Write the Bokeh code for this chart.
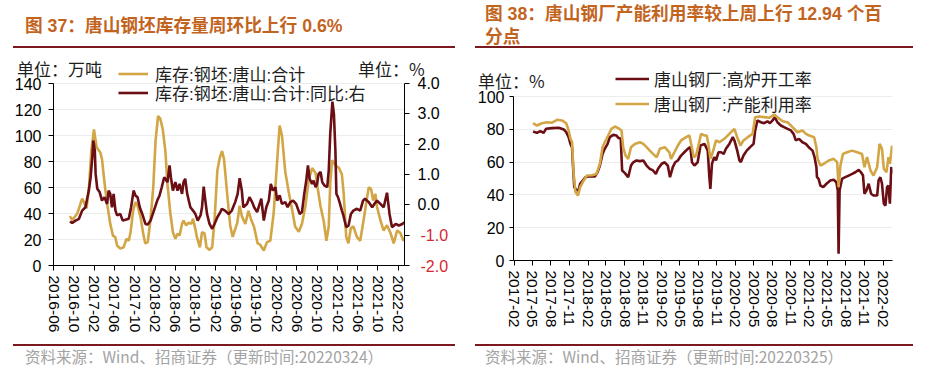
import pandas as pd
from bokeh.plotting import figure
from bokeh.models import (Range1d, LinearAxis, FixedTicker, DatetimeTickFormatter, Legend, LegendItem,
                          Div, ColumnDataSource, NumeralTickFormatter)
from bokeh.layouts import row, column
from bokeh.core.properties import value
from bokeh.embed import file_html
from bokeh.resources import INLINE

# ---------------- texts ----------------
TITLE_L = "图 37：唐山钢坯库存量周环比上行 0.6%"
TITLE_R1 = "图 38：唐山钢厂产能利用率较上周上行 12.94 个百"
TITLE_R2 = "分点"
SRC_L = "资料来源：Wind、招商证券（更新时间:20220324）"
SRC_R = "资料来源：Wind、招商证券（更新时间:20220325）"
UNIT_L_LEFT = "单位：万吨"
UNIT_L_RIGHT = "单位：%"
UNIT_R = "单位：%"
NAME_INV = "库存:钢坯:唐山:合计"
NAME_YOY = "库存:钢坯:唐山:合计:同比:右"
NAME_BF = "唐山钢厂:高炉开工率"
NAME_CU = "唐山钢厂:产能利用率"

L_TICKS = ["2016-06", "2016-10", "2017-02", "2017-06", "2017-10", "2018-02", "2018-06", "2018-10",
           "2019-02", "2019-06", "2019-10", "2020-02", "2020-06", "2020-10", "2021-02", "2021-06",
           "2021-10", "2022-02"]
R_TICKS = ["2017-02", "2017-05", "2017-08", "2017-11", "2018-02", "2018-05", "2018-08", "2018-11",
           "2019-02", "2019-05", "2019-08", "2019-11", "2020-02", "2020-05", "2020-08", "2020-11",
           "2021-02", "2021-05", "2021-08", "2021-11", "2022-02"]
L_Y_TICKS = [0, 20, 40, 60, 80, 100, 120, 140]
L_Y2_TICKS = [-2, -1, 0, 1, 2, 3, 4]
L_Y2_RED = [-2, -1]
R_Y_TICKS = [0, 20, 40, 60, 80, 100]
L_X_END = "2022-03-10"
R_X_END = "2022-03-20"

# ---------------- data: left chart ----------------
L_INV_DATES = ["2016-09-07", "2016-09-22", "2016-10-22", "2016-11-20", "2016-12-01", "2016-12-16", "2016-12-30",
               "2017-01-14", "2017-01-30", "2017-02-15", "2017-03-09", "2017-03-19", "2017-04-04", "2017-04-19",
               "2017-05-08", "2017-05-24", "2017-06-07", "2017-06-18", "2017-07-07", "2017-07-27", "2017-08-13",
               "2017-08-27", "2017-09-07", "2017-09-22", "2017-10-06", "2017-10-19", "2017-11-06", "2017-11-22",
               "2017-12-04", "2017-12-19",
               "2018-01-04", "2018-01-21", "2018-02-04", "2018-02-19", "2018-03-04", "2018-03-19", "2018-04-04",
               "2018-04-16", "2018-05-04", "2018-05-19", "2018-06-03", "2018-06-16", "2018-06-28", "2018-07-13",
               "2018-07-22", "2018-08-07", "2018-08-22", "2018-09-07", "2018-09-17", "2018-10-01", "2018-10-10",
               "2018-10-28", "2018-11-10", "2018-11-25", "2018-12-07", "2018-12-25",
               "2019-01-10", "2019-01-24", "2019-02-10", "2019-02-25", "2019-03-10", "2019-03-22", "2019-04-10",
               "2019-04-28", "2019-05-13", "2019-06-10", "2019-06-24", "2019-07-07", "2019-07-28", "2019-08-16",
               "2019-08-30", "2019-09-19", "2019-10-10", "2019-10-25", "2019-11-16", "2019-12-05", "2019-12-25",
               "2020-01-14", "2020-02-04", "2020-02-19", "2020-03-04", "2020-03-24", "2020-04-13", "2020-05-04",
               "2020-05-22", "2020-06-13", "2020-07-02", "2020-07-22", "2020-08-12", "2020-09-01", "2020-09-22",
               "2020-10-04", "2020-10-21", "2020-11-10", "2020-11-26", "2020-12-10", "2020-12-19", "2020-12-30",
               "2021-01-19", "2021-02-10", "2021-02-27", "2021-03-10", "2021-03-25", "2021-04-07", "2021-04-22",
               "2021-05-07", "2021-05-28", "2021-06-17", "2021-07-07", "2021-07-28", "2021-08-07", "2021-08-21",
               "2021-09-03", "2021-09-16", "2021-09-26", "2021-10-16", "2021-11-04", "2021-11-25", "2021-12-16",
               "2022-01-04", "2022-01-25", "2022-02-13", "2022-03-04", "2022-03-10"]
L_INV = [38, 35, 40, 51.5, 48.7, 44, 58,
         88, 104.6, 91, 87, 82, 63, 47.6, 32, 23, 21.8, 15.4, 13, 14, 20.5, 19, 25.6, 42, 48.7, 46, 37, 24.4, 17, 18,
         34.6, 60, 96, 115, 113, 105, 88, 63, 40, 25.6, 20.5, 24.4, 23, 32, 34.6, 30.8, 33, 32, 36, 28, 22, 14, 25.6,
         24.6, 14, 12,
         14, 34.6, 73, 83, 88, 82, 55, 31, 22, 33, 46, 38, 32, 42, 36, 29.5, 17, 16, 11.5, 18, 19,
         40, 80, 107.7, 100, 72, 57, 43, 30, 26, 32, 45, 66, 75, 71, 60, 46, 34, 19, 30, 63, 81,
         77, 75, 70, 55, 22, 17, 29, 30, 22, 19, 34.6, 52, 60, 59, 50, 55, 45, 35, 27, 31, 25,
         17, 27, 25, 19, 21]

L_YOY_DATES = ["2016-09-08", "2016-09-21", "2016-10-11", "2016-11-01", "2016-11-20", "2016-12-10", "2016-12-30",
               "2017-01-10", "2017-01-20", "2017-01-26", "2017-02-04", "2017-02-09", "2017-02-19", "2017-03-05",
               "2017-03-19", "2017-04-03", "2017-04-19", "2017-04-28", "2017-05-08", "2017-05-18", "2017-05-28",
               "2017-06-08", "2017-06-18", "2017-07-07", "2017-07-22", "2017-08-07", "2017-08-27", "2017-09-10",
               "2017-09-25", "2017-10-06", "2017-10-19", "2017-11-01", "2017-11-16", "2017-12-05", "2017-12-19",
               "2018-01-05", "2018-01-25", "2018-02-14", "2018-02-28", "2018-03-13", "2018-03-28", "2018-04-10",
               "2018-04-17", "2018-04-29", "2018-05-07", "2018-05-19", "2018-06-03", "2018-06-16", "2018-06-28",
               "2018-07-13", "2018-07-22", "2018-08-01", "2018-08-13", "2018-09-01", "2018-09-17", "2018-10-01",
               "2018-10-15", "2018-11-01", "2018-11-10", "2018-11-20", "2018-11-30", "2018-12-10", "2018-12-25",
               "2019-01-10", "2019-01-24", "2019-02-10", "2019-02-28", "2019-03-09", "2019-03-28", "2019-04-19",
               "2019-05-08", "2019-05-28", "2019-06-12", "2019-06-24", "2019-07-07", "2019-07-16", "2019-08-07",
               "2019-08-22", "2019-09-07", "2019-09-19", "2019-10-07", "2019-10-22", "2019-11-01", "2019-11-16",
               "2019-12-01", "2019-12-16", "2019-12-28",
               "2020-01-10", "2020-01-25", "2020-02-04", "2020-02-19", "2020-03-04", "2020-03-24", "2020-04-07",
               "2020-04-23", "2020-05-10", "2020-05-28", "2020-06-19", "2020-07-02", "2020-07-16", "2020-07-28",
               "2020-08-07", "2020-08-17", "2020-09-01", "2020-09-10", "2020-09-22", "2020-10-01", "2020-10-10",
               "2020-10-22", "2020-11-01", "2020-11-14", "2020-12-01", "2020-12-10", "2020-12-19",
               "2021-01-01", "2021-01-10", "2021-01-19", "2021-01-25", "2021-02-04", "2021-02-16", "2021-02-27",
               "2021-03-08", "2021-03-25", "2021-04-08", "2021-04-22", "2021-05-07", "2021-05-28", "2021-06-17",
               "2021-07-04", "2021-07-16", "2021-08-07", "2021-08-28", "2021-09-10", "2021-09-26", "2021-10-16",
               "2021-11-05", "2021-11-25", "2021-12-10", "2021-12-25",
               "2022-01-16", "2022-02-04", "2022-02-25", "2022-03-10"]
L_YOY = [-0.55, -0.6, -0.52, -0.46, -0.19, -0.08, 0.47,
         0.91, 1.57, 2.12, 1.79, 1.02, 0.53, 0.42, 0.14, 0.25, 0.03, 0.47, 0.36, -0.08, 0.36, -0.19, -0.35, -0.3,
         -0.52, -0.49, -0.46, -0.08, 0.47, 0.31, 0.25, -0.08, -0.3, -0.63, -0.65,
         -0.52, -0.19, 0.14, 0.31, 0.58, 0.91, 0.8, 0.75, 1.3, 0.91, 0.47, 0.75, 0.47, 0.69, 0.36, 0.75, 0.86, 0.36,
         -0.08, -0.19, -0.3, -0.52, -0.35, -0.08, 0.6, 0.14, -0.3, -0.63,
         -0.79, -0.63, -0.41, -0.24, -0.13, -0.19, -0.3, -0.19, 0.09, 0.36, 0.88, 0.47, -0.08, 0.03, 0.25, 0.09,
         -0.08, -0.24, 0.03, 0.2, -0.52, -0.08, 0.14, 0.69,
         0.47, 0.58, 0.14, 0.31, 0.03, 0.09, -0.08, 0.09, 0.14, 0.03, -0.3, -0.24, 0.36, 0.8, 1.3, 0.86, 0.69, 0.8,
         0.58, 0.69, 1.02, 1.08, 0.75, 0.64, 0.58, 1.13, 2.34,
         3.4, 3.0, 1.79, 0.36, 0.25, 0.03, -0.19, -0.35, -0.74, -0.68, -0.3, -0.19, -0.13, -0.19, 0.14, 0.2, 0.09,
         -0.08, 0.03, 0.14, 0.03, -0.08, 0.4, -0.3, -0.74,
         -0.63, -0.68, -0.63, -0.58]

# ---------------- data: right chart ----------------
R_BF_DATES = ["2017-05-05", "2017-05-24", "2017-06-10", "2017-06-26", "2017-07-08", "2017-08-07", "2017-09-09",
              "2017-10-04", "2017-10-16", "2017-10-28", "2017-11-06", "2017-11-14", "2017-11-19", "2017-11-25",
              "2017-12-05", "2017-12-16", "2017-12-24",
              "2018-01-06", "2018-01-19", "2018-02-04", "2018-03-07", "2018-03-20", "2018-04-01", "2018-04-14",
              "2018-04-25", "2018-05-09", "2018-05-20", "2018-06-06", "2018-06-22", "2018-07-01", "2018-07-13",
              "2018-07-20", "2018-08-03", "2018-08-19", "2018-09-02", "2018-09-13", "2018-09-29", "2018-10-16",
              "2018-11-02", "2018-11-18", "2018-12-04", "2018-12-20",
              "2019-01-03", "2019-01-14", "2019-02-01", "2019-02-16", "2019-03-03", "2019-03-14", "2019-03-28",
              "2019-04-09", "2019-04-22", "2019-05-08", "2019-05-24", "2019-06-10", "2019-06-23", "2019-07-01",
              "2019-07-13", "2019-07-29", "2019-08-12", "2019-09-01", "2019-09-17", "2019-09-25", "2019-09-30",
              "2019-10-08", "2019-10-19", "2019-10-28", "2019-11-09", "2019-11-22", "2019-12-05", "2019-12-16",
              "2020-01-02", "2020-01-19", "2020-01-27", "2020-02-10", "2020-02-21", "2020-02-28", "2020-03-12",
              "2020-03-28", "2020-04-14", "2020-05-01", "2020-05-09", "2020-05-20", "2020-06-06", "2020-06-22",
              "2020-07-09", "2020-07-21", "2020-08-03", "2020-08-14", "2020-08-27", "2020-09-13", "2020-09-29",
              "2020-10-16", "2020-11-02", "2020-11-15", "2020-11-26", "2020-12-12", "2020-12-29",
              "2021-01-15", "2021-02-01", "2021-02-17", "2021-02-27", "2021-03-08", "2021-03-11", "2021-03-19",
              "2021-03-28", "2021-04-11", "2021-04-27", "2021-05-16", "2021-06-02", "2021-06-15", "2021-06-22",
              "2021-06-26", "2021-07-01", "2021-07-13", "2021-07-29", "2021-08-15", "2021-09-01", "2021-09-17",
              "2021-10-04", "2021-10-15", "2021-10-25", "2021-11-01", "2021-11-11", "2021-11-22", "2021-12-04",
              "2021-12-16",
              "2022-01-03", "2022-01-10", "2022-01-19", "2022-01-27", "2022-02-05", "2022-02-13", "2022-02-21",
              "2022-02-28", "2022-03-07", "2022-03-14", "2022-03-18"]
R_BF = [78.7, 77.8, 78.9, 77.8, 80.3, 80.7, 80.9, 79.9, 78.3, 75.2, 71.1, 69, 57, 44.7, 43.1, 42.7, 46.8,
        48.8, 50.8, 51.2, 51.2, 53.8, 57.9, 65, 68.1, 71.1, 75.2, 76.6, 76.2, 74.8, 74.2, 54.9, 53.3, 50.8, 57.9,
        59.9, 61, 60.6, 61, 57.9, 55.9, 54.9,
        52.8, 55.9, 59, 59.9, 57.9, 50.8, 56.9, 59.9, 61, 64, 66, 68.1, 69.1, 59.9, 57.9, 59.9, 70.1, 71.1, 67,
        50.8, 43.7, 59, 63, 61, 66, 66, 65, 68.1,
        71.1, 75.2, 73.2, 67, 61, 60, 64, 67, 69.1, 71.1, 79.3, 85.4, 84.3, 83.7, 84.9, 83.7, 85.4, 87.4, 84.3,
        82.3, 81.3, 80.3, 79.3, 77.2, 73.2, 74.2, 72.1,
        71.1, 68.7, 67, 63, 57, 50.8, 49.8, 45.7, 44.7, 46.8, 48.8, 49.2, 47.7, 42.7, 4.1, 42.7, 49.8, 50.8, 51.8,
        52.8, 53.8, 55.3, 53.8, 51.8, 40.7, 42.7, 46.8, 40.7, 39.6,
        39.6, 48.8, 50.8, 46.8, 34.6, 33.5, 44.7, 45.7, 34.6, 57, 52.8]

R_CU_DATES = ["2017-05-05", "2017-05-24", "2017-06-18", "2017-07-13", "2017-08-07", "2017-09-01", "2017-09-25",
              "2017-10-16", "2017-10-28", "2017-11-06", "2017-11-14", "2017-11-22", "2017-12-01", "2017-12-13",
              "2017-12-24",
              "2018-01-11", "2018-01-27", "2018-02-21", "2018-03-15", "2018-04-01", "2018-04-14", "2018-04-25",
              "2018-05-12", "2018-05-28", "2018-06-14", "2018-07-01", "2018-07-17", "2018-07-25", "2018-08-06",
              "2018-08-19", "2018-09-02", "2018-09-21", "2018-10-16", "2018-11-02", "2018-11-18", "2018-12-04",
              "2018-12-20",
              "2019-01-07", "2019-01-23", "2019-02-16", "2019-03-11", "2019-03-19", "2019-04-05", "2019-04-22",
              "2019-05-08", "2019-06-02", "2019-06-18", "2019-06-30", "2019-07-10", "2019-07-21", "2019-08-04",
              "2019-08-15", "2019-09-01", "2019-09-12", "2019-09-20", "2019-09-30", "2019-10-12", "2019-10-28",
              "2019-11-14", "2019-12-08",
              "2020-01-02", "2020-01-27", "2020-02-10", "2020-02-26", "2020-03-12", "2020-04-02", "2020-04-26",
              "2020-05-09", "2020-05-28", "2020-06-22", "2020-07-17", "2020-08-11", "2020-08-27", "2020-09-22",
              "2020-10-16", "2020-11-10", "2020-12-04", "2020-12-29",
              "2021-01-15", "2021-02-01", "2021-02-25", "2021-03-08", "2021-03-14", "2021-03-28", "2021-04-14",
              "2021-05-08", "2021-06-02", "2021-06-19", "2021-06-26", "2021-07-05", "2021-07-18", "2021-08-07",
              "2021-09-01", "2021-09-26", "2021-10-20", "2021-11-01", "2021-11-14", "2021-12-01", "2021-12-16",
              "2022-01-03", "2022-01-15", "2022-01-27", "2022-02-05", "2022-02-18", "2022-02-28", "2022-03-07",
              "2022-03-18"]
R_CU = [83.7, 82.3, 83.7, 84.3, 84, 85.8, 85.4, 83.7, 79.3, 74.2, 72.1, 52.8, 41.7, 39.6, 44.7,
        48.8, 51.8, 52, 52.8, 59, 69.1, 72.1, 76.2, 80.3, 81.7, 80.7, 79.3, 69.1, 64, 62, 69.1, 71.1, 72.1, 71.1,
        69.1, 67, 65,
        63, 68.1, 69.1, 66, 62, 66, 70.1, 73.2, 75.2, 76.2, 69.1, 63, 64, 71.1, 77.2, 76.2, 76.2, 71.1, 62, 66,
        73.2, 72.1, 74.2,
        77.2, 80.3, 75.2, 70.1, 73.2, 75.2, 77.2, 87.4, 87.8, 87.4, 87, 89, 87.4, 84.9, 84.3, 81.3, 78.2, 79.3,
        77.2, 76.2, 75.2, 69.1, 62, 57.9, 59, 61, 62, 60, 44.7, 57.9, 65, 66, 67, 66, 65, 56.9, 63, 54.9, 51.8,
        56.9, 71.1, 68.1, 55.9, 53.8, 63, 59, 70.1]

# ---------------- style ----------------
GOLD = "#D2A545"
DARK = "#6B0F14"
RULE = "#7A1A1E"
TITLE_C = "#C3641E"
NEG_RED = "#D42A2F"
CJK = "Noto Sans CJK SC"
NUM = "Liberation Sans"
MIXED = "'Liberation Sans', 'Noto Sans CJK SC'"

# frame geometry (pixels): plot height of the tick span and the extra room above it for the legends
L_SPAN_PX, L_EXTRA_PX = 182, 21
R_SPAN_PX, R_EXTRA_PX = 164, 28


def to_ms(s):
    return pd.Timestamp(s).value / 1e6


def month_fmt():
    return DatetimeTickFormatter(days="%Y-%m", months="%Y-%m", years="%Y-%m", strip_leading_zeros=False)


def style_axis(ax, size="16px", standoff=6, tick=5):
    ax.axis_line_color = "#000000"
    ax.axis_line_width = 1
    ax.major_tick_line_color = "#000000"
    ax.major_tick_out = tick
    ax.major_tick_in = 0
    ax.minor_tick_out = 0
    ax.minor_tick_in = 0
    ax.minor_tick_line_color = None
    ax.major_label_text_font = NUM
    ax.major_label_text_font_size = size
    ax.major_label_text_color = "#000000"
    ax.major_label_standoff = standoff


def base_fig(width, x0, x1, y0, y1, mbl, mbr, mbt, mbb, top_margin):
    p = figure(width=width, height=290, x_axis_type="datetime", output_backend="svg", toolbar_location=None,
               x_range=Range1d(pd.Timestamp(x0), pd.Timestamp(x1)), y_range=Range1d(y0, y1),
               min_border_left=mbl, min_border_right=mbr, min_border_top=mbt, min_border_bottom=mbb,
               margin=(top_margin, 0, 0, 0))
    p.outline_line_color = None
    p.background_fill_color = None
    p.border_fill_color = None
    p.xgrid.visible = False
    p.ygrid.grid_line_color = "#ECECEC"
    p.ygrid.grid_line_width = 1
    return p


def legend_one(p, label, r, x, y, gw, standoff, h):
    lg = Legend(items=[LegendItem(label=value(label), renderers=[r])], location=(x, y),
                padding=0, margin=0, spacing=0, border_line_color=None, background_fill_alpha=0,
                glyph_width=gw, glyph_height=h, label_height=h, label_standoff=standoff,
                label_text_font=MIXED, label_text_font_size="17px", label_text_color="#1E1E1E")
    p.add_layout(lg)


# ================= left chart =================
l_top = 140 + 140 * L_EXTRA_PX / L_SPAN_PX
l_top2 = 4 + 6 * L_EXTRA_PX / L_SPAN_PX
pL = base_fig(474, "2016-06-01", L_X_END, 0, l_top, 53, 70, 14, 73, -28)
pL.extra_y_ranges = {"r": Range1d(-2, l_top2)}
yt = FixedTicker(ticks=L_Y_TICKS)
pL.yaxis[0].ticker = yt
pL.yaxis[0].bounds = (L_Y_TICKS[0], L_Y_TICKS[-1])
pL.ygrid[0].ticker = yt
style_axis(pL.yaxis[0], "16px", 7)
pL.xaxis[0].ticker = FixedTicker(ticks=[to_ms(t) for t in L_TICKS])
pL.xaxis[0].formatter = month_fmt()
pL.xaxis[0].major_label_orientation = "vertical"
style_axis(pL.xaxis[0], "15.5px", 5)

# right axis: line, ticks and the non-negative labels
ax_r = LinearAxis(y_range_name="r", ticker=FixedTicker(ticks=L_Y2_TICKS),
                  formatter=NumeralTickFormatter(format="0.0"),
                  major_label_overrides={v: " " for v in L_Y2_RED},
                  bounds=(L_Y2_TICKS[0], L_Y2_TICKS[-1]))
style_axis(ax_r, "16px", 8)
pL.add_layout(ax_r, "right")
# same scale, its labels pulled back under the first axis' label column: the negative labels in red
ax_r2 = LinearAxis(y_range_name="r", ticker=FixedTicker(ticks=L_Y2_RED),
                   formatter=NumeralTickFormatter(format="0.0"))
style_axis(ax_r2, "16px", -22, 0)
ax_r2.axis_line_color = None
ax_r2.major_tick_line_color = None
ax_r2.major_label_text_color = NEG_RED
pL.add_layout(ax_r2, "right")

srcL1 = ColumnDataSource(dict(d=pd.to_datetime(L_INV_DATES), v=L_INV))
srcL2 = ColumnDataSource(dict(d=pd.to_datetime(L_YOY_DATES), v=L_YOY))
rL1 = pL.line("d", "v", source=srcL1, line_color=GOLD, line_width=2.6)
rL2 = pL.line("d", "v", source=srcL2, line_color=DARK, line_width=2.6, y_range_name="r")

legend_one(pL, NAME_INV, rL1, 65, 179.5, 30, 7, 19)
legend_one(pL, NAME_YOY, rL2, 65, 160.5, 30, 7, 19)

# ================= right chart =================
r_top = 100 + 100 * R_EXTRA_PX / R_SPAN_PX
pR = base_fig(466, "2017-01-28", R_X_END, 0, r_top, 37, 48, 20, 78, -42)
yt2 = FixedTicker(ticks=R_Y_TICKS)
pR.yaxis[0].ticker = yt2
pR.yaxis[0].bounds = (R_Y_TICKS[0], R_Y_TICKS[-1])
pR.ygrid[0].ticker = yt2
style_axis(pR.yaxis[0], "16px", 5, 4)
pR.xaxis[0].ticker = FixedTicker(ticks=[to_ms(t) for t in R_TICKS])
pR.xaxis[0].formatter = month_fmt()
pR.xaxis[0].major_label_orientation = "vertical"
style_axis(pR.xaxis[0], "15.5px", 5)

srcR1 = ColumnDataSource(dict(d=pd.to_datetime(R_BF_DATES), v=R_BF))
srcR2 = ColumnDataSource(dict(d=pd.to_datetime(R_CU_DATES), v=R_CU))
rR1 = pR.line("d", "v", source=srcR1, line_color=DARK, line_width=2.6)
rR2 = pR.line("d", "v", source=srcR2, line_color=GOLD, line_width=2.6)

legend_one(pR, NAME_BF, rR1, 102, 168.8, 34, 5, 19)
legend_one(pR, NAME_CU, rR2, 102, 143.8, 34, 5, 19)

# ================= titles, units & footers =================
TXT = "white-space:nowrap;"
CJK_CSS = f"font-family:'{CJK}';"
MIX_CSS = f"font-family:{MIXED};"
UNIT_CSS = TXT + CJK_CSS + "position:absolute;font-size:17px;line-height:21px;color:#1E1E1E;"

head_L = Div(text=(
    f'<div style="position:relative;width:474px;height:76px;">'
    f'<div style="position:absolute;left:13px;top:0;width:442px;height:48px;box-sizing:border-box;'
    f'border-bottom:2px solid {RULE};">'
    f'<div style="{TXT}{MIX_CSS}padding-left:12px;padding-top:16px;font-weight:bold;font-size:17.7px;'
    f'line-height:20px;color:{TITLE_C};">{TITLE_L}</div></div>'
    f'<div style="{UNIT_CSS}left:17px;top:58px;">{UNIT_L_LEFT}</div>'
    f'<div style="{UNIT_CSS}left:358px;top:58px;">{UNIT_L_RIGHT}</div>'
    f'</div>'), width=474, height=76, margin=(0, 0, 0, 0))

head_R = Div(text=(
    f'<div style="position:relative;width:466px;height:90px;">'
    f'<div style="position:absolute;left:1px;top:0;width:438px;height:48px;box-sizing:border-box;'
    f'border-bottom:2px solid {RULE};">'
    f'<div style="{TXT}{MIX_CSS}padding-left:10px;padding-top:3px;font-weight:bold;font-size:17.7px;'
    f'line-height:23px;color:{TITLE_C};">{TITLE_R1}<br>{TITLE_R2}</div></div>'
    f'<div style="{UNIT_CSS}left:4px;top:70px;">{UNIT_R}</div>'
    f'</div>'), width=466, height=90, margin=(0, 0, 0, 0))


def foot_div(text, width, ml, w, pl):
    return Div(text=(f'<div style="box-sizing:border-box;margin-left:{ml}px;margin-top:6px;width:{w}px;'
                     f'border-top:2px solid {RULE};padding-left:{pl}px;{TXT}{CJK_CSS}font-size:15.5px;'
                     f'line-height:21px;color:#A3A3A3;">{text}</div>'),
               width=width, height=35, margin=(0, 0, 0, 0))


foot_L = foot_div(SRC_L, 474, 13, 442, 12)
foot_R = foot_div(SRC_R, 466, 1, 438, 10)

root = row(column(head_L, pL, foot_L, spacing=0), column(head_R, pR, foot_R, spacing=0), spacing=0)

open("out.html", "w").write(file_html(root, INLINE, title="chart"))
